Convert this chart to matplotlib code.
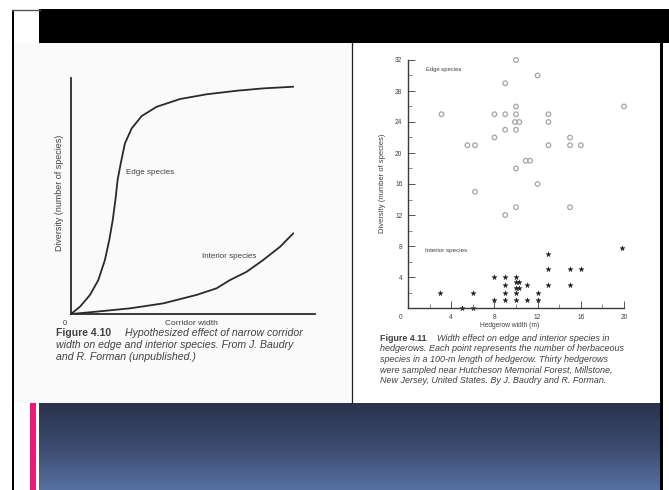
import numpy as np
import matplotlib
matplotlib.use("Agg")
import matplotlib.pyplot as plt
from matplotlib.patches import Rectangle
from matplotlib.colors import LinearSegmentedColormap

plt.rcParams["font.family"] = ["Liberation Sans", "DejaVu Sans"]

# ---------------------------------------------------------------------------
# Data
# ---------------------------------------------------------------------------
# Figure 4.10 - hypothesized curves (corridor width / diversity, arbitrary 0-100)
edge_curve_x = [0, 3.7, 7.8, 11.2, 13.9, 15.7, 17.1, 18.2, 19.1, 20.4, 22.1,
                24.9, 29.0, 35.1, 44.7, 55.6, 67.9, 78.8, 91.1]
edge_curve_y = [0, 3.1, 8.1, 14.4, 22.9, 31.4, 39.8, 48.3, 56.8, 63.9, 72.3,
                78.7, 83.9, 87.8, 91.1, 93.1, 94.6, 95.6, 96.3]
interior_curve_x = [0, 10.5, 24.2, 37.8, 51.5, 59.7, 65.2, 72.0, 78.8, 85.7, 91.1]
interior_curve_y = [0, 1.0, 2.4, 4.5, 8.1, 10.9, 14.4, 17.9, 22.9, 28.5, 34.2]

# Figure 4.11 - hedgerow width (m) vs number of species
edge_width = [10, 12, 9, 3.1, 8, 9, 10, 10, 9.9, 10.3, 9, 10, 8, 13, 13,
              5.5, 6.2, 13, 15, 15, 16, 10.9, 11.3, 10, 12, 6.2, 10, 9, 15, 20]
edge_div = [32, 30, 29, 25, 25, 25, 26, 25, 24, 24, 23, 23, 22, 25, 24,
            21, 21, 21, 22, 21, 21, 19, 19, 18, 16, 15, 13, 12, 13, 26]
int_width = [3, 5, 6, 6, 8, 8, 9, 9, 9, 9, 10, 10, 10.3, 10, 10.3, 10, 10,
             11, 11, 12, 12, 13, 13, 13, 15, 15, 16, 19.8]
int_div = [2, 0, 0, 2, 4, 1, 4, 3, 2, 1, 4, 3.3, 3.3, 2.6, 2.6, 2, 1,
           3, 1, 2, 1, 7, 5, 3, 5, 3, 5, 7.7]

x_ticks_right = [4, 8, 12, 16, 20]
y_ticks_right = [4, 8, 12, 16, 20, 24, 28, 32]

caption_left = ["width on edge and interior species. From J. Baudry",
                "and R. Forman (unpublished.)"]
caption_right = ["hedgerows. Each point represents the number of herbaceous",
                 "species in a 100-m length of hedgerow. Thirty hedgerows",
                 "were sampled near Hutcheson Memorial Forest, Millstone,",
                 "New Jersey, United States. By J. Baudry and R. Forman."]

W, H = 669, 490
TXT = "#404040"

fig = plt.figure(figsize=(W / 100, H / 100), dpi=100)
fig.patch.set_facecolor("white")


def px_rect(left, top, right, bottom):
    """Figure-fraction rect from pixel box."""
    return [left / W, 1 - bottom / H, (right - left) / W, (bottom - top) / H]


# ---------------------------------------------------------------------------
# Slide decoration (pixel coordinates)
# ---------------------------------------------------------------------------
bg = fig.add_axes([0, 0, 1, 1])
bg.set_xlim(0, W)
bg.set_ylim(H, 0)
bg.axis("off")

bg.add_patch(Rectangle((14, 43), 338, 360, color="#fafafa", lw=0))
bg.add_patch(Rectangle((12, 10), 2.2, H - 10, color="black", lw=0))
bg.plot([12, 40], [10, 10], color="#555555", lw=1)
bg.add_patch(Rectangle((39, 9), W - 39, 34, color="black", lw=0))
bg.add_patch(Rectangle((660, 43), 2.5, H - 43, color="black", lw=0))
bg.plot([352, 352], [43, 403], color="#222222", lw=0.9)

grad = np.linspace(0, 1, 100).reshape(-1, 1)
cmap = LinearSegmentedColormap.from_list("band", ["#29334d", "#3c4a6e", "#5670a1"])
bg.imshow(grad, extent=[39, 660, 490, 403], aspect="auto", cmap=cmap,
          interpolation="bilinear")
bg.add_patch(Rectangle((30, 403), 6, H - 403, color="#ea1a7b", lw=0))
bg.set_xlim(0, W)
bg.set_ylim(H, 0)

# ---------------------------------------------------------------------------
# Left figure (4.10)
# ---------------------------------------------------------------------------
axl = fig.add_axes(px_rect(71, 78, 315, 314))
axl.patch.set_alpha(0)
axl.plot(edge_curve_x, edge_curve_y, color="#2a2a2a", lw=1.3, solid_capstyle="round")
axl.plot(interior_curve_x, interior_curve_y, color="#2a2a2a", lw=1.3, solid_capstyle="round")
axl.set_xlim(0, 100)
axl.set_ylim(0, 100)
for s in ["top", "right"]:
    axl.spines[s].set_visible(False)
for s in ["left", "bottom"]:
    axl.spines[s].set_color("#2a2a2a")
    axl.spines[s].set_linewidth(1.3)
axl.set_xticks([])
axl.set_yticks([])
axl.text(22.7, 60, "Edge species", fontsize=5.8, color=TXT, va="center")
axl.text(53.5, 24.2, "Interior species", fontsize=5.8, color=TXT, va="center")

bg.text(65, 323, "0", fontsize=5.5, color=TXT, ha="center", va="center")
bg.text(191, 323, "Corridor width", fontsize=6, color=TXT, ha="center", va="center")
bg.text(60, 193, "Diversity (number of species)", fontsize=6.4, color=TXT,
        ha="center", va="center", rotation=90)
bg.text(56, 333, "Figure 4.10", fontsize=7.5, color=TXT, weight="bold", va="center")
bg.text(125, 333, "Hypothesized effect of narrow corridor", fontsize=7.6,
        color=TXT, style="italic", va="center")
for i, line in enumerate(caption_left):
    bg.text(56, 345 + 11.5 * i, line, fontsize=7.6, color=TXT, style="italic", va="center")

# ---------------------------------------------------------------------------
# Right figure (4.11)
# ---------------------------------------------------------------------------
axr = fig.add_axes(px_rect(408, 60, 624, 308))
axr.patch.set_alpha(0)
axr.scatter(edge_width, edge_div, s=11, facecolors="none", edgecolors="#a5a5a5",
            linewidths=0.9, clip_on=False)
axr.scatter(int_width, int_div, s=14, marker="*", color="#1a1a1a", lw=0.3,
            clip_on=False)
axr.set_xlim(0, 20)
axr.set_ylim(0, 32)
for s in ["top", "right"]:
    axr.spines[s].set_visible(False)
for s in ["left", "bottom"]:
    axr.spines[s].set_color("#3a3a3a")
    axr.spines[s].set_linewidth(1.0)
axr.set_xticks(x_ticks_right)
axr.set_yticks(y_ticks_right)
axr.set_xticks(np.arange(2, 20, 2), minor=True)
axr.set_yticks(np.arange(2, 32, 2), minor=True)
axr.tick_params(which="major", direction="in", length=5, width=0.7,
                colors="#555555", labelsize=4.8, labelcolor=TXT, pad=4)
axr.tick_params(which="minor", direction="in", length=3, width=0.6, colors="#777777")
axr.text(1.7, 30.8, "Edge species", fontsize=4.2, color=TXT, va="center")
axr.text(1.6, 7.4, "Interior species", fontsize=4.5, color=TXT, va="center")

bg.text(401, 317, "0", fontsize=4.8, color=TXT, ha="center", va="center")
bg.text(510, 325.5, "Hedgerow width (m)", fontsize=4.8, color=TXT, ha="center", va="center")
bg.text(383, 183, "Diversity (number of species)", fontsize=5.5, color=TXT,
        ha="center", va="center", rotation=90)
bg.text(380, 338, "Figure 4.11", fontsize=6.4, color=TXT, weight="bold", va="center")
bg.text(437, 338, "Width effect on edge and interior species in", fontsize=6.5,
        color=TXT, style="italic", va="center")
for i, line in enumerate(caption_right):
    bg.text(380, 348.7 + 10.7 * i, line, fontsize=6.5, color=TXT, style="italic", va="center")

fig.savefig("out.png", dpi=100)
plt.close(fig)
